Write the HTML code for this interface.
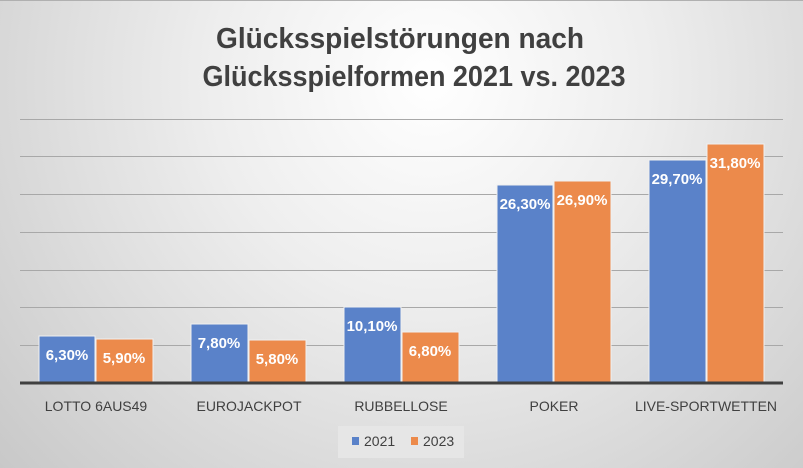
<!DOCTYPE html>
<html><head><meta charset="utf-8"><style>
html,body{margin:0;padding:0;}
body{width:803px;height:468px;overflow:hidden;}
svg{display:block;font-family:"Liberation Sans",sans-serif;}
</style></head><body>
<svg width="803" height="468" viewBox="0 0 803 468" xmlns="http://www.w3.org/2000/svg">
<defs>
<radialGradient id="bg" cx="430" cy="80" r="620" gradientUnits="userSpaceOnUse">
<stop offset="0" stop-color="#ffffff"/>
<stop offset="0.35" stop-color="#eeeeee"/>
<stop offset="1" stop-color="#c4c4c4"/>
</radialGradient>
</defs>
<rect width="803" height="468" fill="url(#bg)"/>
<line x1="0" y1="0.5" x2="803" y2="0.5" stroke="#b0b0b0"/>
<text x="400" y="48" text-anchor="middle" font-size="29" font-weight="bold" fill="#404040" textLength="368" lengthAdjust="spacingAndGlyphs">Glücksspielstörungen nach</text>
<text x="414" y="86" text-anchor="middle" font-size="29" font-weight="bold" fill="#404040" textLength="423" lengthAdjust="spacingAndGlyphs">Glücksspielformen 2021 vs. 2023</text>
<g stroke="#a8a8a8" stroke-width="1">
<line x1="20" y1="119.5" x2="783" y2="119.5"/>
<line x1="20" y1="156.5" x2="783" y2="156.5"/>
<line x1="20" y1="194.5" x2="783" y2="194.5"/>
<line x1="20" y1="232.5" x2="783" y2="232.5"/>
<line x1="20" y1="270.5" x2="783" y2="270.5"/>
<line x1="20" y1="307.5" x2="783" y2="307.5"/>
<line x1="20" y1="345.5" x2="783" y2="345.5"/>
</g>
<g stroke="#f0f0f0" stroke-width="1">
<rect x="39" y="336" width="56" height="47" fill="#5a82c9"/>
<rect x="96" y="339" width="57" height="44" fill="#ec8a4b"/>
<rect x="191" y="324" width="57" height="59" fill="#5a82c9"/>
<rect x="249" y="340" width="57" height="43" fill="#ec8a4b"/>
<rect x="344" y="307" width="57" height="76" fill="#5a82c9"/>
<rect x="402" y="332" width="57" height="51" fill="#ec8a4b"/>
<rect x="497" y="185" width="56" height="198" fill="#5a82c9"/>
<rect x="554" y="181" width="57" height="202" fill="#ec8a4b"/>
<rect x="649" y="160" width="57" height="223" fill="#5a82c9"/>
<rect x="707" y="144" width="57" height="239" fill="#ec8a4b"/>
</g>
<line x1="20" y1="383" x2="783" y2="383" stroke="#404040" stroke-width="3"/>
<g fill="#ffffff" font-size="15" font-weight="bold" text-anchor="middle">
<text x="67" y="360">6,30%</text>
<text x="124" y="363">5,90%</text>
<text x="219" y="348">7,80%</text>
<text x="277" y="364">5,80%</text>
<text x="372" y="331">10,10%</text>
<text x="430" y="356">6,80%</text>
<text x="525" y="209">26,30%</text>
<text x="582" y="205">26,90%</text>
<text x="677" y="184">29,70%</text>
<text x="735" y="168">31,80%</text>
</g>
<g fill="#404040" font-size="14" text-anchor="middle">
<text x="96" y="411">LOTTO 6AUS49</text>
<text x="249" y="411">EUROJACKPOT</text>
<text x="401" y="411">RUBBELLOSE</text>
<text x="554" y="411">POKER</text>
<text x="706" y="411">LIVE-SPORTWETTEN</text>
</g>
<rect x="338" y="426" width="126" height="32" fill="#e6e6e6"/>
<rect x="352" y="437" width="7" height="8" fill="#5a82c9"/>
<text x="364" y="446" font-size="14" fill="#404040">2021</text>
<rect x="411" y="437" width="7" height="8" fill="#ec8a4b"/>
<text x="423" y="446" font-size="14" fill="#404040">2023</text>
</svg>
</body></html>
